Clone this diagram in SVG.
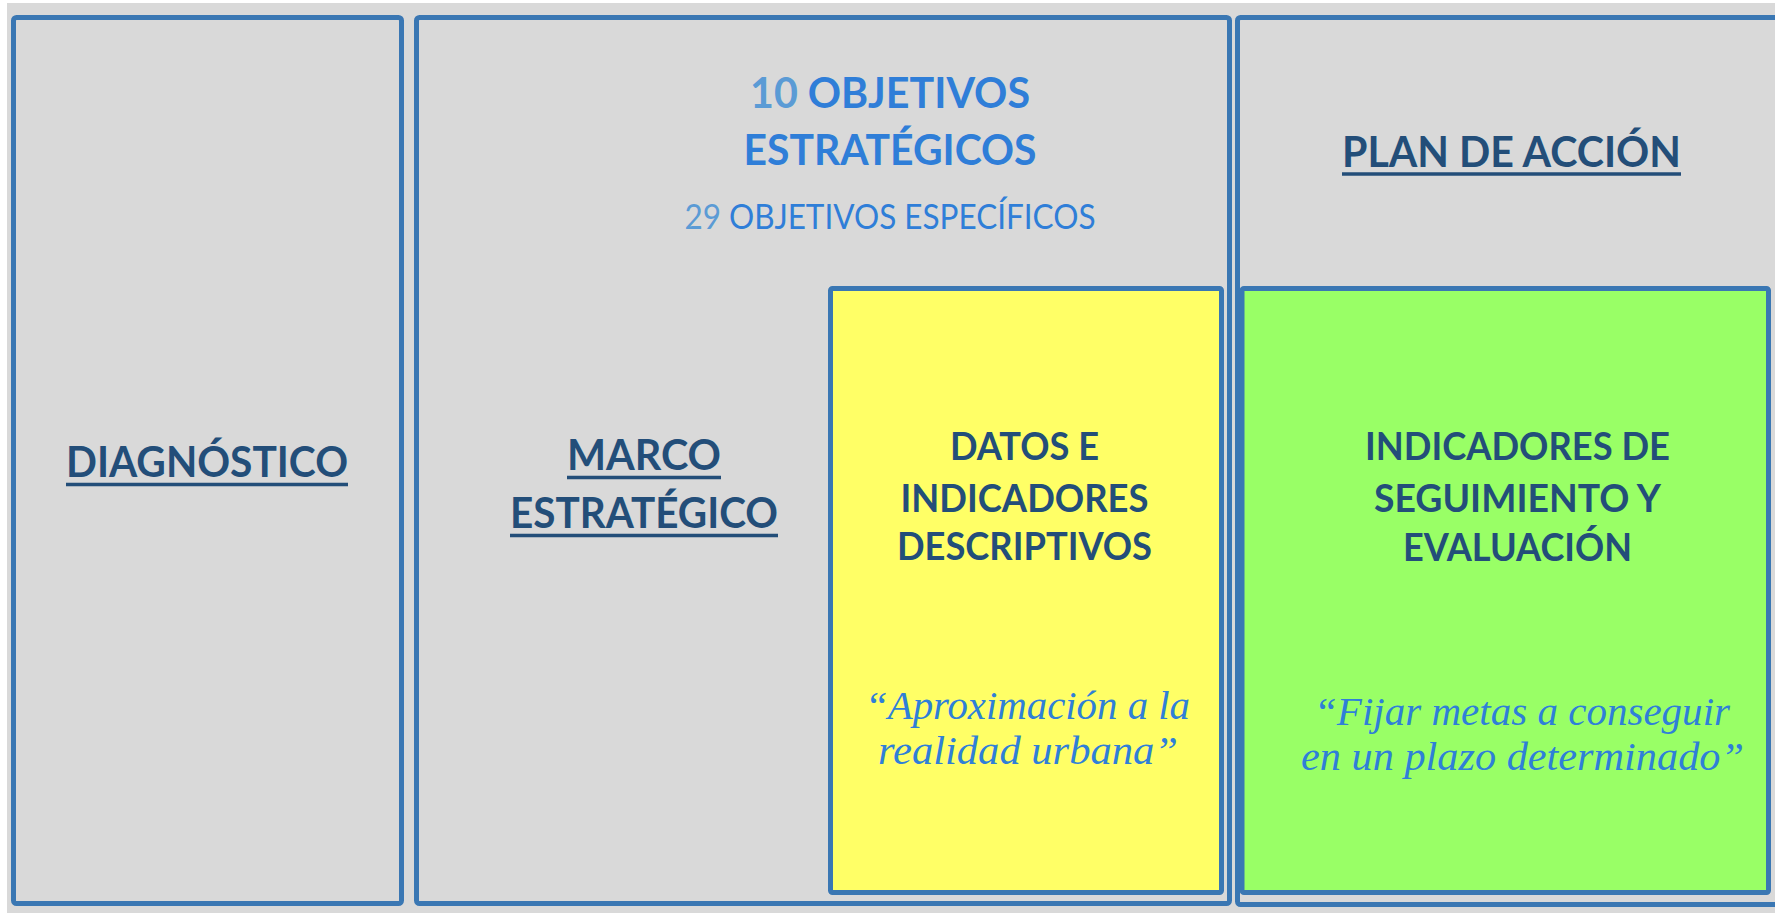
<svg xmlns="http://www.w3.org/2000/svg" width="1775" height="913" viewBox="0 0 1775 913">
<style>
.box{fill:none;stroke:#3a77b3;stroke-width:5;}
.hd{font-family:Lato,"Open Sans","Liberation Sans",sans-serif;font-weight:bold;fill:#234e79;text-anchor:middle;}
.bl{font-family:Lato,"Open Sans","Liberation Sans",sans-serif;font-weight:bold;fill:#2f7ed8;text-anchor:middle;}
.rg{font-family:Lato,"Open Sans","Liberation Sans",sans-serif;font-weight:normal;fill:#2f7ed8;text-anchor:middle;}
.lt{fill:#5b9bd5;}
.q{font-family:"Liberation Serif","Times New Roman",serif;font-style:italic;fill:#2f7fd8;text-anchor:middle;}
.ul{stroke:#234e79;stroke-width:3.5;}
</style>
<rect x="7" y="3" width="1768" height="910" fill="#d9d9d9"/>
<g id="diagnostico">
<rect class="box" x="13.5" y="17.5" width="388" height="886" rx="3"/>
<text class="hd" x="207" y="477" font-size="42" textLength="282" lengthAdjust="spacingAndGlyphs">DIAGNÓSTICO</text>
<line class="ul" x1="66" y1="484.5" x2="348" y2="484.5"/>
</g>
<g id="marco-estrategico">
<rect class="box" x="416.5" y="17.5" width="813" height="886" rx="3"/>
<text class="bl" x="890" y="108" font-size="42" textLength="280" lengthAdjust="spacingAndGlyphs"><tspan class="lt">10</tspan> OBJETIVOS</text>
<text class="bl" x="890" y="165" font-size="42" textLength="293" lengthAdjust="spacingAndGlyphs">ESTRATÉGICOS</text>
<text class="rg" x="890" y="229" font-size="34" textLength="411" lengthAdjust="spacingAndGlyphs"><tspan class="lt">29</tspan> OBJETIVOS ESPECÍFICOS</text>
<text class="hd" x="644" y="470" font-size="42" textLength="154" lengthAdjust="spacingAndGlyphs">MARCO</text>
<line class="ul" x1="567" y1="477.5" x2="721" y2="477.5"/>
<text class="hd" x="644" y="528" font-size="42" textLength="268" lengthAdjust="spacingAndGlyphs">ESTRATÉGICO</text>
<line class="ul" x1="510" y1="535.5" x2="778" y2="535.5"/>
</g>
<g id="datos-indicadores">
<rect x="830.5" y="288.5" width="391" height="604" rx="2" fill="#ffff66" stroke="#3a77b3" stroke-width="5"/>
<text class="hd" x="1024.5" y="460" font-size="39" textLength="149" lengthAdjust="spacingAndGlyphs">DATOS E</text>
<text class="hd" x="1024.5" y="512" font-size="39" textLength="248" lengthAdjust="spacingAndGlyphs">INDICADORES</text>
<text class="hd" x="1024.5" y="560" font-size="39" textLength="255" lengthAdjust="spacingAndGlyphs">DESCRIPTIVOS</text>
<text class="q" x="1027.5" y="719" font-size="40" textLength="325" lengthAdjust="spacingAndGlyphs">“Aproximación a la</text>
<text class="q" x="1028" y="764" font-size="40" textLength="300" lengthAdjust="spacingAndGlyphs">realidad urbana”</text>
</g>
<g id="plan-accion">
<rect class="box" x="1237.5" y="17.5" width="560" height="887" rx="3"/>
<text class="hd" x="1511.5" y="167" font-size="42" textLength="339" lengthAdjust="spacingAndGlyphs">PLAN DE ACCIÓN</text>
<line class="ul" x1="1342" y1="174" x2="1681" y2="174"/>
</g>
<g id="indicadores-seguimiento">
<rect x="1242" y="288.5" width="526.5" height="604" rx="2" fill="#99ff66" stroke="#3a77b3" stroke-width="5"/>
<text class="hd" x="1517.5" y="460" font-size="39" textLength="305" lengthAdjust="spacingAndGlyphs">INDICADORES DE</text>
<text class="hd" x="1517.5" y="512" font-size="39" textLength="287" lengthAdjust="spacingAndGlyphs">SEGUIMIENTO Y</text>
<text class="hd" x="1517.5" y="561" font-size="39" textLength="229" lengthAdjust="spacingAndGlyphs">EVALUACIÓN</text>
<text class="q" x="1522" y="725" font-size="40" textLength="416" lengthAdjust="spacingAndGlyphs">“Fijar metas a conseguir</text>
<text class="q" x="1522.5" y="770" font-size="40" textLength="443" lengthAdjust="spacingAndGlyphs">en un plazo determinado”</text>
</g>
<g id="connectors"></g>
</svg>
